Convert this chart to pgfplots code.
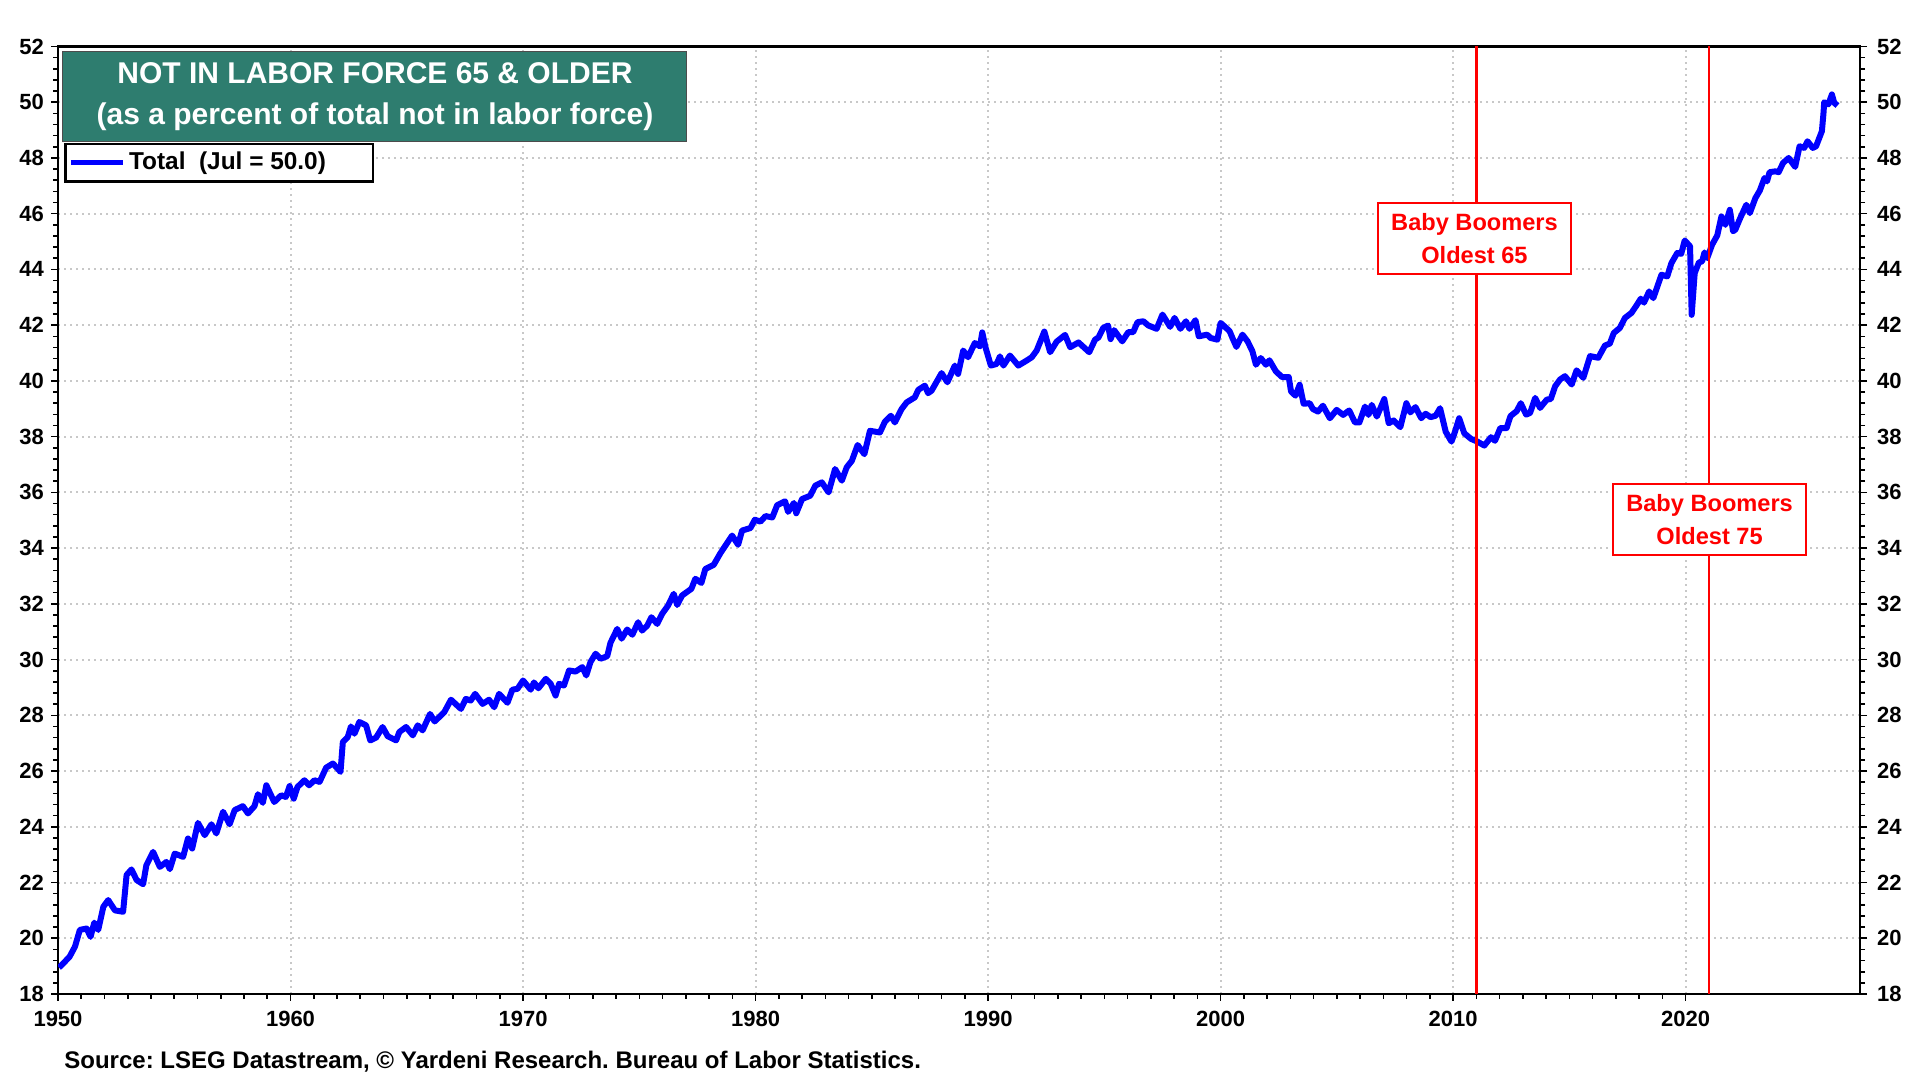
\documentclass[border=0pt]{standalone}
\usepackage{fontspec}
\setmainfont{Liberation Sans}
\usepackage{pgfplots}
\pgfplotsset{compat=1.18}
\usepackage{pgfplotstable}
\definecolor{tealbox}{HTML}{2E7D6F}
\definecolor{gridgray}{HTML}{C8C8C8}
\frenchspacing
\pgfplotstableread{
year val
1950.04 18.95
1950.16 19.04
1950.5 19.34
1950.73 19.7
1950.94 20.3
1951.23 20.35
1951.4 20.05
1951.56 20.56
1951.73 20.3
1951.95 21.13
1952.16 21.37
1952.45 21.0
1952.8 20.95
1952.95 22.27
1953.16 22.47
1953.38 22.09
1953.66 21.94
1953.8 22.62
1954.09 23.1
1954.38 22.56
1954.66 22.74
1954.81 22.48
1955.02 23.04
1955.38 22.92
1955.59 23.58
1955.77 23.22
1956.02 24.14
1956.31 23.70
1956.6 24.09
1956.81 23.76
1957.1 24.54
1957.38 24.09
1957.6 24.6
1957.95 24.74
1958.17 24.48
1958.45 24.74
1958.6 25.17
1958.81 24.86
1958.96 25.49
1959.3 24.89
1959.6 25.13
1959.8 25.07
1959.96 25.46
1960.14 25.01
1960.3 25.43
1960.6 25.67
1960.8 25.49
1961.03 25.67
1961.25 25.61
1961.53 26.12
1961.82 26.27
1961.96 26.15
1962.15 25.97
1962.25 27.04
1962.46 27.22
1962.6 27.6
1962.75 27.34
1962.96 27.76
1963.25 27.64
1963.43 27.1
1963.68 27.2
1963.96 27.58
1964.18 27.25
1964.54 27.1
1964.68 27.40
1964.97 27.58
1965.26 27.28
1965.47 27.64
1965.68 27.46
1966.0 28.05
1966.2 27.78
1966.61 28.11
1966.9 28.56
1967.33 28.23
1967.54 28.59
1967.75 28.53
1967.94 28.77
1968.26 28.41
1968.54 28.56
1968.76 28.29
1968.97 28.77
1969.33 28.45
1969.54 28.92
1969.76 28.95
1970.0 29.25
1970.33 28.92
1970.47 29.18
1970.66 28.97
1970.98 29.31
1971.19 29.13
1971.4 28.71
1971.55 29.13
1971.76 29.07
1971.98 29.61
1972.26 29.57
1972.55 29.73
1972.72 29.43
1972.9 29.91
1973.12 30.21
1973.33 30.03
1973.62 30.12
1973.76 30.6
1974.05 31.1
1974.24 30.75
1974.48 31.08
1974.7 30.89
1974.95 31.34
1975.12 31.04
1975.34 31.22
1975.52 31.52
1975.77 31.28
1975.98 31.64
1976.24 31.94
1976.48 32.36
1976.63 31.96
1976.84 32.3
1977.24 32.54
1977.41 32.9
1977.67 32.75
1977.84 33.25
1978.2 33.4
1978.49 33.82
1978.99 34.45
1979.25 34.12
1979.42 34.63
1979.78 34.72
1979.97 35.02
1980.21 34.95
1980.43 35.15
1980.72 35.1
1980.93 35.54
1981.27 35.68
1981.4 35.3
1981.65 35.62
1981.75 35.25
1982.0 35.76
1982.35 35.88
1982.57 36.24
1982.85 36.36
1983.14 36.0
1983.42 36.84
1983.71 36.42
1983.92 36.9
1984.14 37.13
1984.39 37.7
1984.68 37.37
1984.92 38.21
1985.35 38.15
1985.56 38.53
1985.82 38.75
1985.99 38.51
1986.28 38.99
1986.5 39.23
1986.85 39.41
1987.0 39.68
1987.28 39.83
1987.42 39.56
1987.57 39.65
1988.0 40.28
1988.25 39.95
1988.57 40.55
1988.71 40.25
1988.93 41.09
1989.14 40.85
1989.43 41.36
1989.65 41.24
1989.75 41.74
1989.89 41.2
1990.12 40.55
1990.37 40.61
1990.51 40.88
1990.66 40.55
1990.94 40.91
1991.3 40.55
1991.66 40.73
1991.88 40.85
1992.09 41.09
1992.42 41.77
1992.67 41.03
1992.95 41.41
1993.31 41.65
1993.53 41.21
1993.89 41.38
1994.35 41.03
1994.6 41.48
1994.75 41.56
1994.95 41.9
1995.16 41.99
1995.27 41.5
1995.42 41.82
1995.77 41.42
1996.03 41.75
1996.24 41.75
1996.43 42.11
1996.68 42.14
1996.89 41.99
1997.25 41.87
1997.5 42.38
1997.83 41.94
1998.02 42.26
1998.27 41.87
1998.51 42.14
1998.66 41.87
1998.92 42.18
1999.06 41.6
1999.42 41.66
1999.57 41.54
1999.86 41.48
2000.0 42.08
2000.19 41.94
2000.39 41.78
2000.51 41.54
2000.68 41.22
2000.94 41.66
2001.16 41.42
2001.37 41.06
2001.52 40.58
2001.73 40.82
2001.95 40.58
2002.1 40.74
2002.38 40.34
2002.64 40.14
2002.93 40.14
2003.03 39.62
2003.22 39.47
2003.4 39.86
2003.57 39.18
2003.83 39.2
2003.97 38.99
2004.19 38.9
2004.4 39.11
2004.7 38.66
2004.99 38.96
2005.27 38.78
2005.53 38.94
2005.78 38.51
2005.97 38.51
2006.21 39.08
2006.36 38.78
2006.5 39.14
2006.72 38.72
2007.04 39.35
2007.23 38.48
2007.44 38.58
2007.73 38.34
2007.99 39.2
2008.16 38.87
2008.38 39.06
2008.63 38.66
2008.82 38.82
2009.03 38.7
2009.25 38.75
2009.44 39.02
2009.68 38.18
2009.93 37.82
2010.07 38.15
2010.26 38.66
2010.48 38.12
2010.77 37.92
2011.05 37.82
2011.34 37.68
2011.63 37.98
2011.8 37.85
2012.03 38.31
2012.3 38.31
2012.47 38.74
2012.74 38.92
2012.91 39.2
2013.14 38.79
2013.31 38.85
2013.53 39.39
2013.74 39.03
2014.03 39.33
2014.2 39.35
2014.39 39.81
2014.6 40.05
2014.81 40.17
2015.1 39.87
2015.31 40.38
2015.6 40.11
2015.89 40.89
2016.24 40.83
2016.53 41.27
2016.74 41.34
2016.91 41.72
2017.17 41.9
2017.39 42.26
2017.67 42.44
2017.89 42.71
2018.07 42.95
2018.21 42.81
2018.43 43.21
2018.61 42.97
2018.76 43.33
2018.96 43.81
2019.21 43.75
2019.39 44.23
2019.64 44.59
2019.81 44.56
2019.96 45.04
2020.19 44.83
2020.26 42.37
2020.39 43.87
2020.57 44.25
2020.71 44.29
2020.81 44.61
2020.93 44.41
2021.14 44.89
2021.36 45.22
2021.54 45.9
2021.71 45.6
2021.9 46.14
2022.04 45.37
2022.14 45.43
2022.33 45.81
2022.61 46.32
2022.76 46.02
2023.0 46.56
2023.19 46.83
2023.39 47.28
2023.5 47.16
2023.61 47.49
2023.86 47.52
2024.0 47.49
2024.19 47.82
2024.43 48.0
2024.71 47.68
2024.9 48.42
2025.1 48.36
2025.24 48.6
2025.47 48.36
2025.61 48.42
2025.86 48.96
2025.93 49.62
2025.96 50.0
2026.14 49.92
2026.29 50.28
2026.39 49.98
2026.53 49.88
}\datatable

\pgfplotsset{
  common/.style={
    width=901pt, height=473.75pt, scale only axis,
    at={(29pt,43pt)}, anchor=south west,
    xmin=1950, xmax=2027.5, ymin=18, ymax=52,
    xtick={1950,1960,...,2020}, minor x tick num=9,
    ytick={18,20,...,52}, minor y tick num=4,
    tick align=outside,
    major tick length=3.5pt, minor tick length=2.5pt,
    every tick/.style={black, line width=0.8pt},
    /pgf/number format/1000 sep={},
    /pgf/number format/assume math mode=true,
    tick label style={font=\fontsize{11}{12}\bfseries\selectfont},
  }
}

\begin{document}
\begin{tikzpicture}
\useasboundingbox (0,0) rectangle (960pt,540pt);
\begin{axis}[common,
    xtick pos=bottom, ytick pos=left,
    xticklabel style={yshift=-1.5pt},
    axis line style={line width=1.4pt},
    grid=major,
    major grid style={gridgray, line width=1pt, dash pattern=on 1.1pt off 1.9pt},
    clip=true,
    legend style={at={(0.0036,0.8985)}, anchor=north west, draw=black, line width=1.2pt,
      fill=white, inner xsep=1.5pt, inner ysep=2.2pt, font=\fontsize{12.2}{14}\bfseries\selectfont,
      legend cell align=left},
    legend image code/.code={\draw[blue, line width=2.2pt] (0pt,0pt) -- (26pt,0pt);},
  ]
\addplot[blue, line width=3pt, line join=round] table[x=year,y=val]{\datatable};
\addlegendentry{Total\ \ (Jul = 50.0)\hspace*{20pt}\mbox{}}
\addplot[red, line width=1.25pt, forget plot] coordinates {(2011,18) (2011,52)};
\addplot[red, line width=1.25pt, forget plot] coordinates {(2021,18) (2021,52)};
\node[draw=red, line width=1pt, fill=white, text=red, align=center,
  minimum width=96.5pt, minimum height=35.5pt, inner sep=0pt,
  font=\fontsize{11.8}{16.3}\bfseries\selectfont] at (axis cs:2010.92,45.11) {Baby Boomers\\Oldest 65};
\node[draw=red, line width=1pt, fill=white, text=red, align=center,
  minimum width=96.5pt, minimum height=35.5pt, inner sep=0pt,
  font=\fontsize{11.8}{16.3}\bfseries\selectfont] at (axis cs:2021.03,35.03) {Baby Boomers\\Oldest 75};
\node[draw=black!70, line width=0.5pt, fill=tealbox, text=white, align=center,
  minimum width=312pt, minimum height=45pt, inner sep=0pt,
  font=\fontsize{15}{20.8}\bfseries\selectfont] at (axis description cs:0.1759,0.947)
  {NOT IN LABOR FORCE 65 \& OLDER\\(as a percent of total not in labor force)};
\end{axis}
\begin{axis}[common,
    hide x axis, axis y line*=right,
    ytick pos=right, yticklabel pos=right,
    axis line style={line width=1.4pt},
    yticklabel style={xshift=1.5pt},
  ]
\end{axis}
\node[anchor=west, inner sep=0pt, font=\fontsize{12}{14}\bfseries\selectfont] at (32pt,9pt)
  {Source: LSEG Datastream, \textcopyright\ Yardeni Research. Bureau of Labor Statistics.};
\end{tikzpicture}
\end{document}
